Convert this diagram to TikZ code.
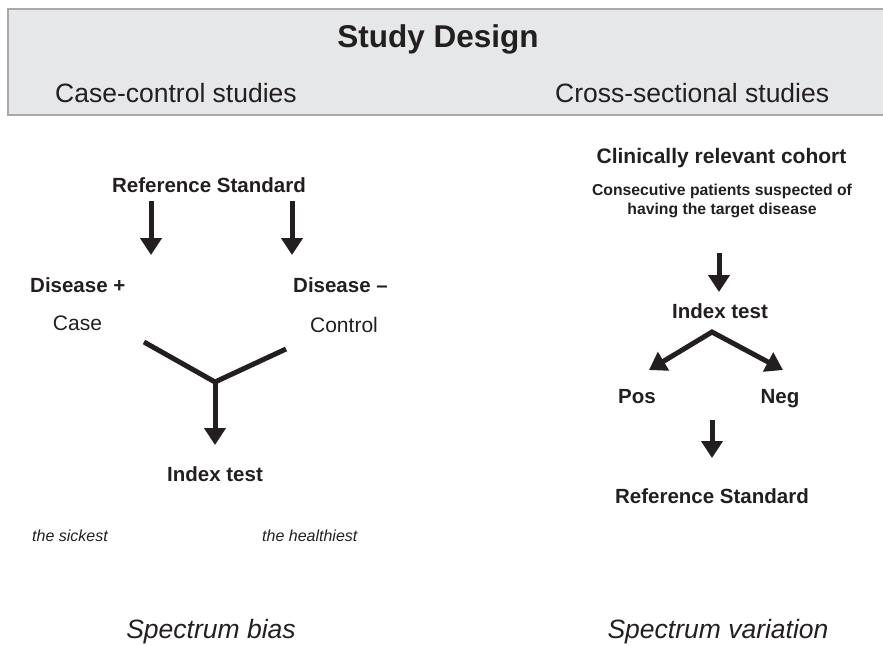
\documentclass[tikz,border=0pt]{standalone}
\usepackage{fontspec}
\setmainfont{Liberation Sans}
\usepackage{xcolor}
\usetikzlibrary{arrows.meta,positioning}

\definecolor{ink}{HTML}{231F20}
\definecolor{bandfill}{HTML}{E6E7E8}
\definecolor{bandline}{HTML}{A7A9AC}

\tikzset{
    lbl/.style={inner sep=0pt, text=ink},
    boldlbl/.style={lbl, font=\fontsize{20.5}{24}\selectfont\bfseries},
    plainlbl/.style={lbl, font=\fontsize{21}{24}\selectfont},
    notelbl/.style={lbl, font=\fontsize{16}{19}\selectfont\itshape},
    biaslbl/.style={lbl, font=\fontsize{26.5}{30}\selectfont\itshape},
    headlbl/.style={lbl, font=\fontsize{26.5}{30}\selectfont},
    fatline/.style={draw=ink, line width=5pt, line join=miter},
    fatarrow/.style={fatline, -{Triangle[width=21pt,length=17pt]}},
}

\begin{document}
\begin{tikzpicture}[x=1pt, y=-1pt]
    \useasboundingbox (0,0) rectangle (883,645);

    % Header band
    \draw[fill=bandfill, draw=bandline, line width=2.5pt] (8,9) rectangle (890,115);
    \node[lbl, anchor=base, font=\fontsize{31.5}{36}\selectfont\bfseries] (title) at (438,47) {Study Design};
    \node[headlbl, anchor=base west] (casehead) at (55,102) {Case-control studies};
    \node[headlbl, anchor=base west] (crosshead) at (555,102) {Cross-sectional studies};

    % Case-control branch
    \node[boldlbl, anchor=base] (refL) at (209,192) {Reference Standard};
    \node[boldlbl, anchor=base west] (dplus) at (30,292) {Disease +};
    \node[boldlbl, anchor=base west] (dminus) at (293,292) {Disease --};
    \node[plainlbl, anchor=base] (caseN) at (77.5,330) {Case};
    \node[plainlbl, anchor=base] (controlN) at (344,332) {Control};
    \node[boldlbl, anchor=base] (idxL) at (215,481) {Index test};
    \node[notelbl, anchor=base west] (sick) at (32,541) {the sickest};
    \node[notelbl, anchor=base west] (healthy) at (262,541) {the healthiest};
    \node[biaslbl, anchor=base] (bias) at (211,638) {Spectrum bias};

    \coordinate (plusTop) at (151,201);
    \coordinate (plusEnd) at (151,255);
    \coordinate (minusTop) at (292,201);
    \coordinate (minusEnd) at (292,255);
    \coordinate (caseArm) at (144,342);
    \coordinate (controlArm) at (286,349);
    \coordinate (join) at (215,382);
    \coordinate (idxEnd) at (215,445);

    \draw[fatarrow] (plusTop) -- (plusEnd);
    \draw[fatarrow] (minusTop) -- (minusEnd);
    \draw[fatline] (caseArm) -- (join) -- (controlArm);
    \draw[fatarrow] (join) -- (idxEnd);

    % Cross-sectional branch
    \node[lbl, anchor=base, font=\fontsize{21}{24}\selectfont\bfseries] (cohort) at (721.5,163) {Clinically relevant cohort};
    \node[lbl, anchor=north, align=center, font=\fontsize{15.75}{19}\selectfont\bfseries] (consec) at (722,183.5)
        {Consecutive patients suspected of\\having the target disease};
    \node[boldlbl, anchor=base] (idxR) at (720,318) {Index test};
    \node[boldlbl, anchor=base] (pos) at (637,403) {Pos};
    \node[boldlbl, anchor=base] (neg) at (780,403) {Neg};
    \node[boldlbl, anchor=base] (refR) at (712,503) {Reference Standard};
    \node[biaslbl, anchor=base] (variation) at (718,638) {Spectrum variation};

    \coordinate (cohortTop) at (719,253);
    \coordinate (cohortEnd) at (719,292);
    \coordinate (apex) at (712,332);
    \coordinate (posEnd) at (649,370);
    \coordinate (negEnd) at (783,370);
    \coordinate (refTop) at (712,420);
    \coordinate (refEnd) at (712,458);

    \draw[fatarrow] (cohortTop) -- (cohortEnd);
    \draw[fatline, {Triangle[width=21pt,length=17pt]}-{Triangle[width=21pt,length=17pt]}] (posEnd) -- (apex) -- (negEnd);
    \draw[fatarrow] (refTop) -- (refEnd);
\end{tikzpicture}
\end{document}
